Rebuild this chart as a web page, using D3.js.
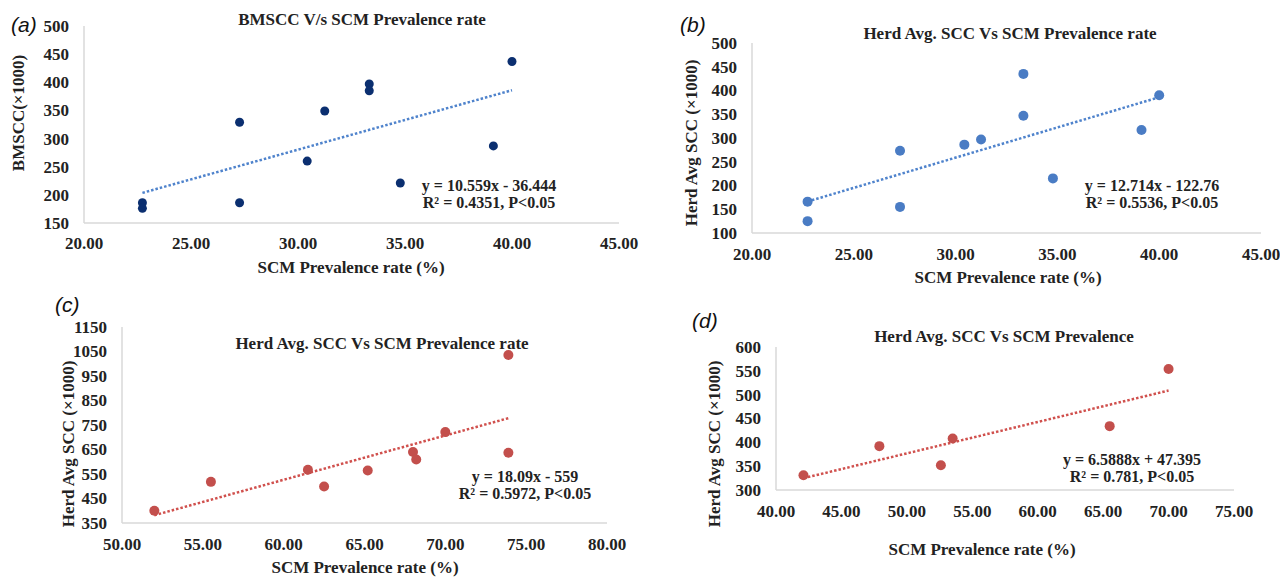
<!DOCTYPE html>
<html>
<head>
<meta charset="utf-8">
<script src="https://cdn.jsdelivr.net/npm/d3@7"></script>
<style>
  body { margin: 0; background: #fff; }
  svg { display: block; }
  text { font-family: "Liberation Serif", "Times New Roman", serif; font-weight: bold; fill: #222; }
  .panel-tag { font-family: "Liberation Sans", Arial, sans-serif; font-weight: normal; font-style: italic; fill: #111; }
</style>
</head>
<body>
<svg id="chart" width="1280" height="577"></svg>
<script>
// (a) BMSCC vs SCM prevalence
const prevA = [22.73, 22.73, 27.27, 27.27, 30.43, 31.25, 33.33, 33.33, 34.78, 39.13, 40.00];
const bmsccA = [186, 176, 329, 186, 260, 349, 397, 385, 221, 287, 437];
// (b) herd avg SCC vs SCM prevalence
const prevB = [22.73, 22.73, 27.27, 27.27, 30.43, 31.25, 33.33, 33.33, 34.78, 39.13, 40.00];
const sccB = [166, 125, 273, 155, 286, 297, 435, 347, 215, 317, 390];
// (c)
const prevC = [52.0, 55.5, 61.5, 62.5, 65.2, 68.0, 68.2, 70.0, 73.9, 73.9];
const sccC = [400, 518, 567, 499, 564, 640, 609, 721, 637, 1036];
// (d)
const prevD = [42.1, 47.9, 52.6, 53.5, 65.5, 70.0];
const sccD = [331, 392, 352, 408, 434, 554];

const xTicksA = [20, 25, 30, 35, 40, 45];
const yTicksA = [150, 200, 250, 300, 350, 400, 450, 500];
const yTicksB = [100, 150, 200, 250, 300, 350, 400, 450, 500];
const xTicksC = [50, 55, 60, 65, 70, 75, 80];
const yTicksC = [350, 450, 550, 650, 750, 850, 950, 1050, 1150];
const xTicksD = [40, 45, 50, 55, 60, 65, 70, 75];
const yTicksD = [300, 350, 400, 450, 500, 550, 600];

const svg = d3.select("#chart");

function drawPanel(p) {
  const g = svg.append("g");
  const x = d3.scaleLinear().domain(p.xDomain).range(p.xRange);
  const y = d3.scaleLinear().domain(p.yDomain).range(p.yRange);

  // axis lines
  g.append("line")
    .attr("x1", x(p.xDomain[0])).attr("x2", x(p.xDomain[0]))
    .attr("y1", y(p.yDomain[1])).attr("y2", y(p.yDomain[0]))
    .attr("stroke", "#d9d9d9").attr("stroke-width", 1.5);
  g.append("line")
    .attr("x1", x(p.xDomain[0])).attr("x2", x(p.xDomain[1]))
    .attr("y1", y(p.yDomain[0])).attr("y2", y(p.yDomain[0]))
    .attr("stroke", "#d9d9d9").attr("stroke-width", 1.5);

  // tick labels
  g.selectAll(".yt").data(p.yTicks).join("text")
    .attr("x", x(p.xDomain[0]) - 15)
    .attr("y", d => y(d))
    .attr("dy", "0.35em")
    .attr("text-anchor", "end")
    .attr("font-size", 17)
    .text(d => d);
  g.selectAll(".xt").data(p.xTicks).join("text")
    .attr("x", d => x(d))
    .attr("y", p.xTickY)
    .attr("dy", "0.35em")
    .attr("text-anchor", "middle")
    .attr("font-size", 17)
    .text(d => d3.format(".2f")(d));

  // trendline from equation
  const xs = d3.extent(p.xs);
  g.append("path")
    .datum(xs)
    .attr("fill", "none")
    .attr("stroke", p.lineColor)
    .attr("stroke-width", 2.5)
    .attr("stroke-dasharray", "2.5,2")
    .attr("d", d3.line()
      .x(d => x(d))
      .y(d => y(p.slope * d + p.intercept)));

  // points
  g.selectAll("circle").data(p.xs).join("circle")
    .attr("cx", d => x(d))
    .attr("cy", (d, i) => y(p.ys[i]))
    .attr("r", p.r)
    .attr("fill", p.color);

  // texts
  g.append("text").attr("x", p.title[1]).attr("y", p.title[2]).attr("dy", "0.35em")
    .attr("text-anchor", "middle").attr("font-size", 17).text(p.title[0]);
  g.append("text").attr("x", p.xLabel[1]).attr("y", p.xLabel[2]).attr("dy", "0.35em")
    .attr("text-anchor", "middle").attr("font-size", 17).text(p.xLabel[0]);
  g.append("text")
    .attr("transform", "translate(" + p.yLabel[1] + "," + p.yLabel[2] + ") rotate(-90)")
    .attr("dy", "0.35em").attr("text-anchor", "middle").attr("font-size", 17).text(p.yLabel[0]);
  p.eq.forEach((t, i) => {
    g.append("text").attr("x", p.eqPos[0]).attr("y", p.eqPos[1] + i * 17).attr("dy", "0.35em")
      .attr("text-anchor", "middle").attr("font-size", 16).text(t);
  });
  g.append("text").attr("class", "panel-tag")
    .attr("x", p.tag[1]).attr("y", p.tag[2]).attr("dy", "0.35em")
    .attr("font-size", 21).text(p.tag[0]);
}

const blueLine = "#4f83cc";
const redLine = "#d0504d";

drawPanel({
  xs: prevA, ys: bmsccA, xDomain: [20, 45], yDomain: [150, 500],
  xRange: [84, 619], yRange: [223, 26], xTicks: xTicksA, yTicks: yTicksA, xTickY: 243,
  color: "#0b2f70", lineColor: blueLine, r: 4.5, slope: 10.559, intercept: -36.444,
  title: ["BMSCC V/s SCM Prevalence rate", 362, 19],
  xLabel: ["SCM Prevalence rate (%)", 351, 267],
  yLabel: ["BMSCC(×1000)", 18, 113],
  eq: ["y = 10.559x - 36.444", "R² = 0.4351, P<0.05"], eqPos: [489, 185],
  tag: ["(a)", 11, 25]
});

drawPanel({
  xs: prevB, ys: sccB, xDomain: [20, 45], yDomain: [100, 500],
  xRange: [752, 1261], yRange: [233, 43], xTicks: xTicksA, yTicks: yTicksB, xTickY: 254,
  color: "#4a7cc4", lineColor: blueLine, r: 5, slope: 12.714, intercept: -122.76,
  title: ["Herd Avg. SCC Vs SCM Prevalence rate", 1010, 33],
  xLabel: ["SCM Prevalence rate (%)", 1008, 277],
  yLabel: ["Herd Avg SCC (×1000)", 691, 143],
  eq: ["y = 12.714x - 122.76", "R² = 0.5536, P<0.05"], eqPos: [1152, 185],
  tag: ["(b)", 680, 25]
});

drawPanel({
  xs: prevC, ys: sccC, xDomain: [50, 80], yDomain: [350, 1150],
  xRange: [122, 607], yRange: [523, 327], xTicks: xTicksC, yTicks: yTicksC, xTickY: 544,
  color: "#c34f4c", lineColor: redLine, r: 5, slope: 18.09, intercept: -559,
  title: ["Herd Avg. SCC Vs SCM Prevalence rate", 382, 343],
  xLabel: ["SCM Prevalence rate (%)", 365, 567],
  yLabel: ["Herd Avg SCC (×1000)", 68, 444],
  eq: ["y = 18.09x - 559", "R² = 0.5972, P<0.05"], eqPos: [525, 476],
  tag: ["(c)", 55, 305]
});

drawPanel({
  xs: prevD, ys: sccD, xDomain: [40, 75], yDomain: [300, 600],
  xRange: [776, 1234], yRange: [490, 347], xTicks: xTicksD, yTicks: yTicksD, xTickY: 511,
  color: "#c34f4c", lineColor: redLine, r: 5, slope: 6.5888, intercept: 47.395,
  title: ["Herd Avg. SCC Vs SCM Prevalence", 1004, 336],
  xLabel: ["SCM Prevalence rate (%)", 982, 549],
  yLabel: ["Herd Avg SCC (×1000)", 714, 444],
  eq: ["y = 6.5888x + 47.395", "R² = 0.781, P<0.05"], eqPos: [1132, 459],
  tag: ["(d)", 692, 321]
});
</script>
</body>
</html>
